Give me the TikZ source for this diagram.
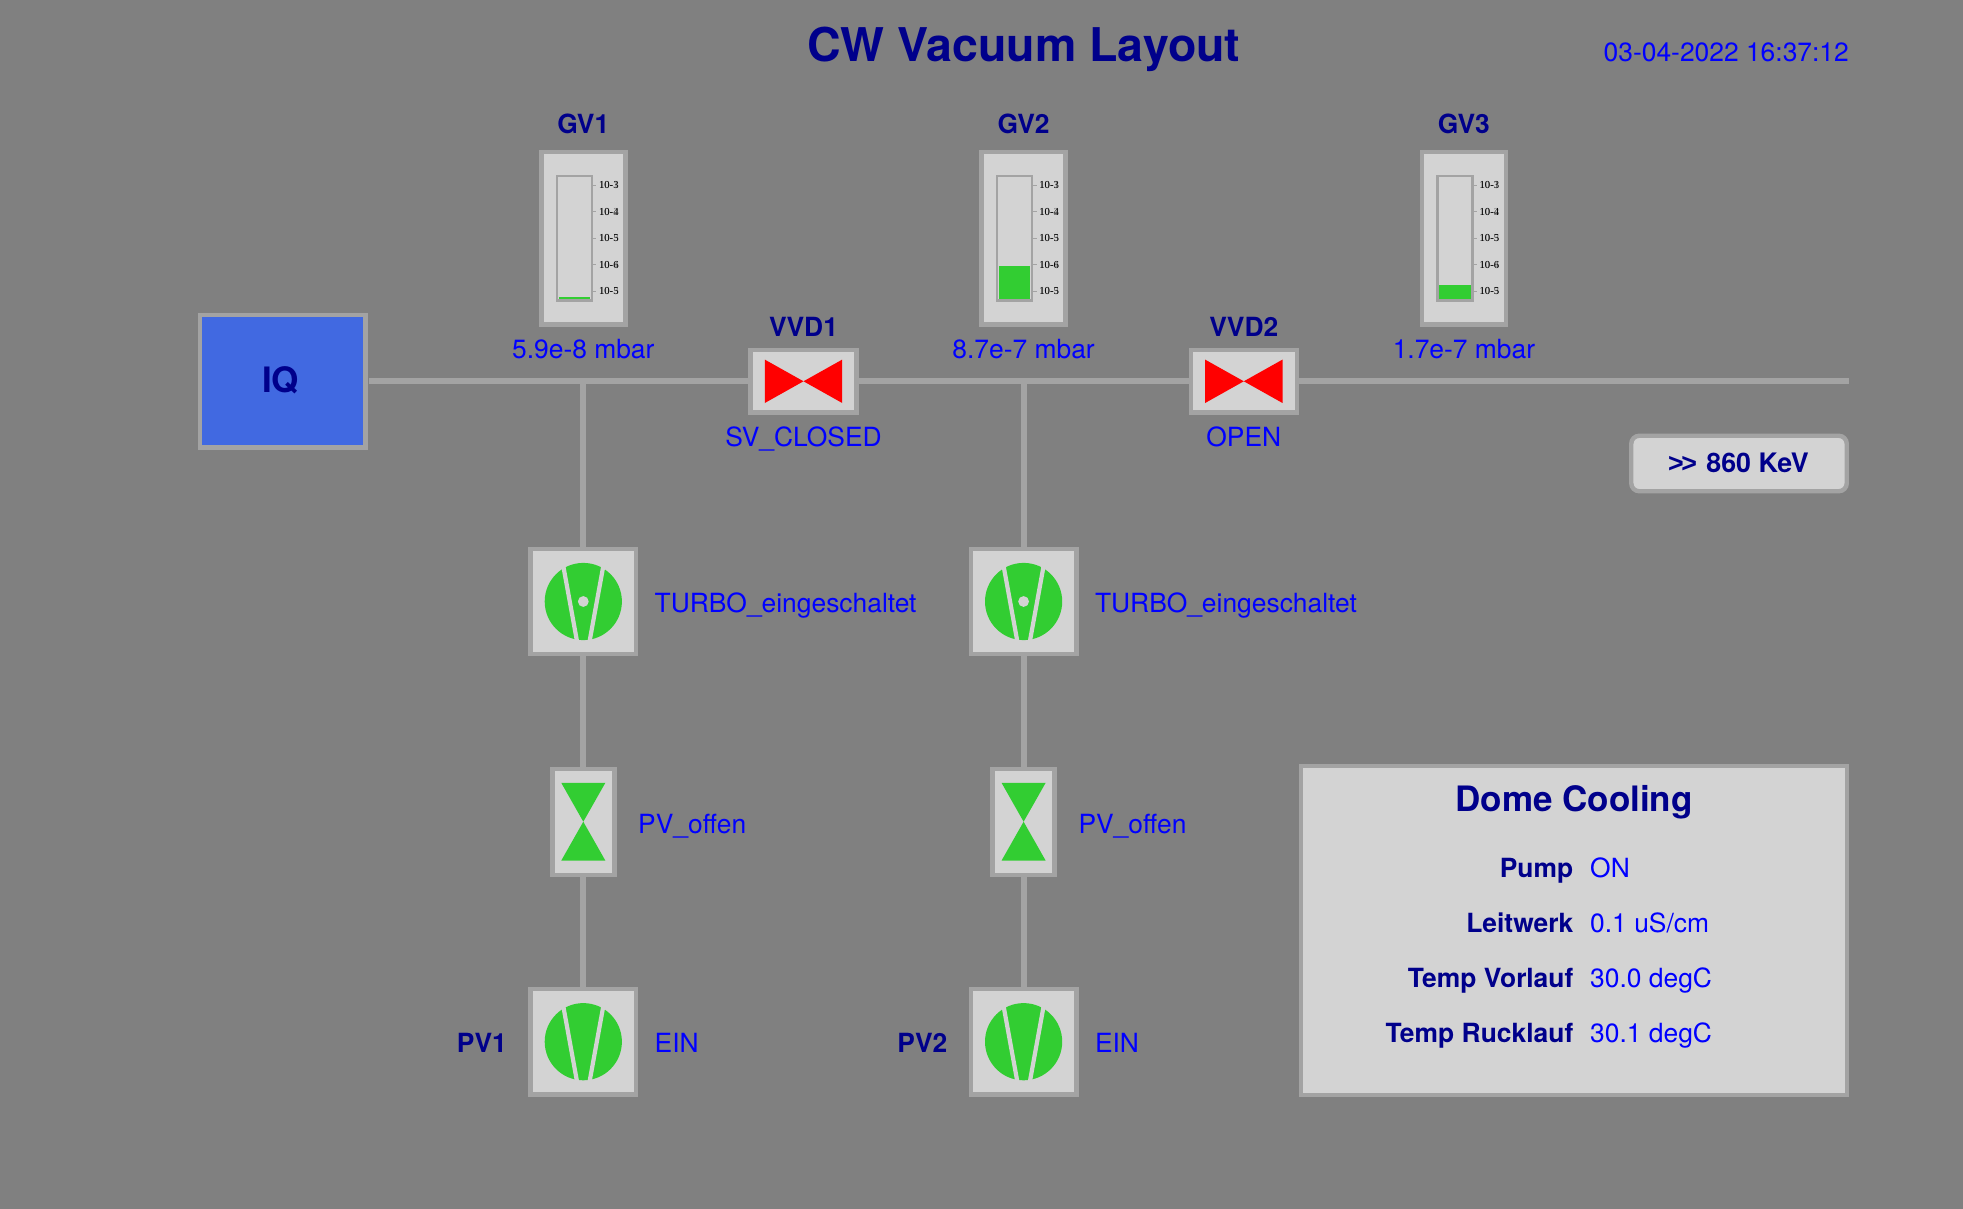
\documentclass[tikz,border=0pt]{standalone}
\usepackage{fontspec}
\setmainfont{TeX Gyre Heros}
\newfontfamily\scalefont{Liberation Serif}
\newfontfamily\arrowfont{Liberation Sans}
\definecolor{bggray}{HTML}{808080}
\definecolor{panel}{HTML}{D3D3D3}
\definecolor{edge}{HTML}{A3A3A3}
\definecolor{okgreen}{HTML}{32CD32}
\definecolor{navy}{HTML}{00008B}
\definecolor{royal}{HTML}{4169E1}
\newcommand{\fs}[1]{\fontsize{#1}{#1}\selectfont}
\tikzset{
  box/.style={draw=edge,fill=panel,line width=4.4pt,inner sep=0pt,rectangle},
  pipe/.style={draw=edge,line width=5.8pt},
  val/.style={text=blue,font=\fs{26.4},inner sep=0pt,anchor=base},
  vall/.style={val,anchor=base west},
  lab/.style={text=navy,font=\fs{26.4}\bfseries,inner sep=0pt,anchor=base},
  rowlab/.style={text=navy,font=\fs{26.4}\bfseries,inner sep=0pt,anchor=base east},
  tick/.style={text=black,font=\scalefont\fs{10.7},inner sep=0pt,anchor=base west},
  ghost/.style={tick,text=black!55},
  gaugebox/.style={box,minimum width=84pt,minimum height=172pt},
  valvebox/.style={box,minimum width=106pt,minimum height=62.5pt},
  fanbox/.style={box,minimum width=105.5pt,minimum height=105.5pt},
  pvbox/.style={box,minimum width=62pt,minimum height=106pt},
}
\newcommand{\gaugeparts}[2]{%
  \begin{scope}[shift={(#1.center)}]
    \fill[okgreen] (-24.8,#2) rectangle (6.8,60.7);
    \draw[edge,line width=2.4pt] (-26.6,-62.5) rectangle (8.4,62);
    \foreach \yy in {-52.9,-26.5,0,26.5,53}{\draw[edge,line width=1.2pt] (9.5,\yy) -- (13,\yy);}
    \node[ghost] at (15.5,-49.4) {10-1};
    \node[tick] at (15.5,-49.4) {10-3};
    \node[ghost] at (15.5,-23) {10-2};
    \node[tick] at (15.5,-23) {10-4};
    \node[ghost] at (15.5,3.5) {10-3};
    \node[tick] at (15.5,3.5) {10-5};
    \node[ghost] at (15.5,30) {10-4};
    \node[tick] at (15.5,30) {10-6};
    \node[ghost] at (15.5,56.5) {10-3};
    \node[tick] at (15.5,56.5) {10-5};
  \end{scope}}
\newcommand{\fanparts}[1]{%
  \begin{scope}[shift={(#1.center)}]
    \fill[okgreen] (0,0) circle (38.6);
    \draw[panel,line width=4.2pt] (-21,-41) -- (-5.7,43);
    \draw[panel,line width=4.2pt] (21,-41) -- (5.7,43);
  \end{scope}}
\newcommand{\valveparts}[1]{%
  \begin{scope}[shift={(#1.center)}]
    \fill[red] (-38.7,-21.7) -- (0,0) -- (-38.7,21.7) -- cycle;
    \fill[red] (38.7,-21.7) -- (0,0) -- (38.7,21.7) -- cycle;
  \end{scope}}
\newcommand{\pvparts}[1]{%
  \begin{scope}[shift={(#1.center)}]
    \fill[okgreen] (-22,-38.8) -- (22,-38.8) -- (0,0) -- cycle;
    \fill[okgreen] (-22,38.8) -- (22,38.8) -- (0,0) -- cycle;
  \end{scope}}
\begin{document}
\begin{tikzpicture}[x=1pt,y=-1pt]
\useasboundingbox (0,0) rectangle (1963,1209);
\fill[bggray] (0,0) rectangle (1963,1209);
\begin{scope}[yshift=-1pt]
% nodes
\node[box,fill=royal,minimum width=165.5pt,minimum height=132.5pt] (iq) at (282.8,380.3) {};
\node[gaugebox] (g1) at (583.3,237.3) {};
\node[gaugebox] (g2) at (1023.6,237.3) {};
\node[gaugebox] (g3) at (1463.9,237.3) {};
\node[valvebox] (v1) at (803.5,380.3) {};
\node[valvebox] (v2) at (1243.8,380.3) {};
\node[fanbox] (t1) at (583.3,600.5) {};
\node[fanbox] (t2) at (1023.6,600.5) {};
\node[pvbox] (p1) at (583.3,820.7) {};
\node[pvbox] (p2) at (1023.6,820.7) {};
\node[fanbox] (f1) at (583.3,1040.7) {};
\node[fanbox] (f2) at (1023.6,1040.7) {};
\node[box,rounded corners=8pt,minimum width=215.5pt,minimum height=55.5pt] (btn) at (1739,462.5) {};
\node[box,minimum width=546pt,minimum height=329pt] (dome) at (1573.9,929.4) {};

\coordinate (j1) at (583.3,380.3);
\coordinate (j2) at (1023.6,380.3);
\coordinate (lineend) at (1849,380.3);

% connectors
\draw[pipe,shorten <=1.5pt] (iq.east |- j1) -- (v1.west |- j1);
\draw[pipe] (v1.east |- j1) -- (v2.west |- j1);
\draw[pipe] (v2.east |- j1) -- (lineend);
\draw[pipe] (j1) -- (t1.north);
\draw[pipe] (j2) -- (t2.north);
\draw[pipe] (t1.south) -- (p1.north);
\draw[pipe] (t2.south) -- (p2.north);
\draw[pipe] (p1.south) -- (f1.north);
\draw[pipe] (p2.south) -- (f2.north);

% icons
\gaugeparts{g1}{59}
\gaugeparts{g2}{27.7}
\gaugeparts{g3}{46.7}
\valveparts{v1}
\valveparts{v2}
\fanparts{t1}
\fanparts{t2}
\fill[panel] (t1.center) circle (5.4);
\fill[panel] (t2.center) circle (5.4);
\pvparts{p1}
\pvparts{p2}
\fanparts{f1}
\fanparts{f2}

% texts
\node[text=navy,font=\fs{46.5}\bfseries,inner sep=0pt,anchor=base] (title) at (1023.8,61) {CW Vacuum Layout};
\node[val,anchor=base east] (date) at (1849,61) {03-04-2022 16:37:12};
\node[text=navy,font=\fs{35}\bfseries,inner sep=0pt,anchor=base] (iqt) at (280.7,391.8) {IQ};
\node[lab] (lg1) at (583.3,132.7) {GV1};
\node[lab] (lg2) at (1023.6,132.7) {GV2};
\node[lab] (lg3) at (1463.9,132.7) {GV3};
\node[val] (pg1) at (583.3,357.7) {5.9e-8 mbar};
\node[val] (pg2) at (1023.6,357.7) {8.7e-7 mbar};
\node[val] (pg3) at (1463.9,357.7) {1.7e-7 mbar};
\node[lab] (lv1) at (803.5,335.3) {VVD1};
\node[lab] (lv2) at (1243.8,335.3) {VVD2};
\node[val] (sv1) at (803.5,445.7) {SV\_CLOSED};
\node[val] (sv2) at (1243.8,445.7) {OPEN};
\node[vall] (st1) at (654.5,611.8) {TURBO\_eingeschaltet};
\node[vall] (st2) at (1094.8,611.8) {TURBO\_eingeschaltet};
\node[vall] (sp1) at (638,832.5) {PV\_offen};
\node[vall] (sp2) at (1078.3,832.5) {PV\_offen};
\node[vall] (sf1) at (654.5,1051.5) {EIN};
\node[vall] (sf2) at (1094.8,1051.5) {EIN};
\node[lab,anchor=base east] (lf1) at (507,1051.5) {PV1};
\node[lab,anchor=base east] (lf2) at (947.5,1051.5) {PV2};
\node[text=navy,font=\fs{26.8}\bfseries,inner sep=0pt,anchor=base] (btnt) at (1738.5,471) {{\arrowfont >\hspace{-2.5pt}>}\hspace{2pt} 860 KeV};
\node[text=navy,font=\fs{35}\bfseries,inner sep=0pt,anchor=base] (dt) at (1574,810.6) {Dome Cooling};
\node[rowlab] (r1) at (1573.5,876) {Pump};
\node[rowlab] (r2) at (1573.5,931) {Leitwerk};
\node[rowlab] (r3) at (1573.5,986) {Temp Vorlauf};
\node[rowlab] (r4) at (1573.5,1041) {Temp Rucklauf};
\node[vall] (w1) at (1590,876) {ON};
\node[vall] (w2) at (1590,931) {0.1 uS/cm};
\node[vall] (w3) at (1590,986) {30.0 degC};
\node[vall] (w4) at (1590,1041) {30.1 degC};
\end{scope}
\end{tikzpicture}
\end{document}
